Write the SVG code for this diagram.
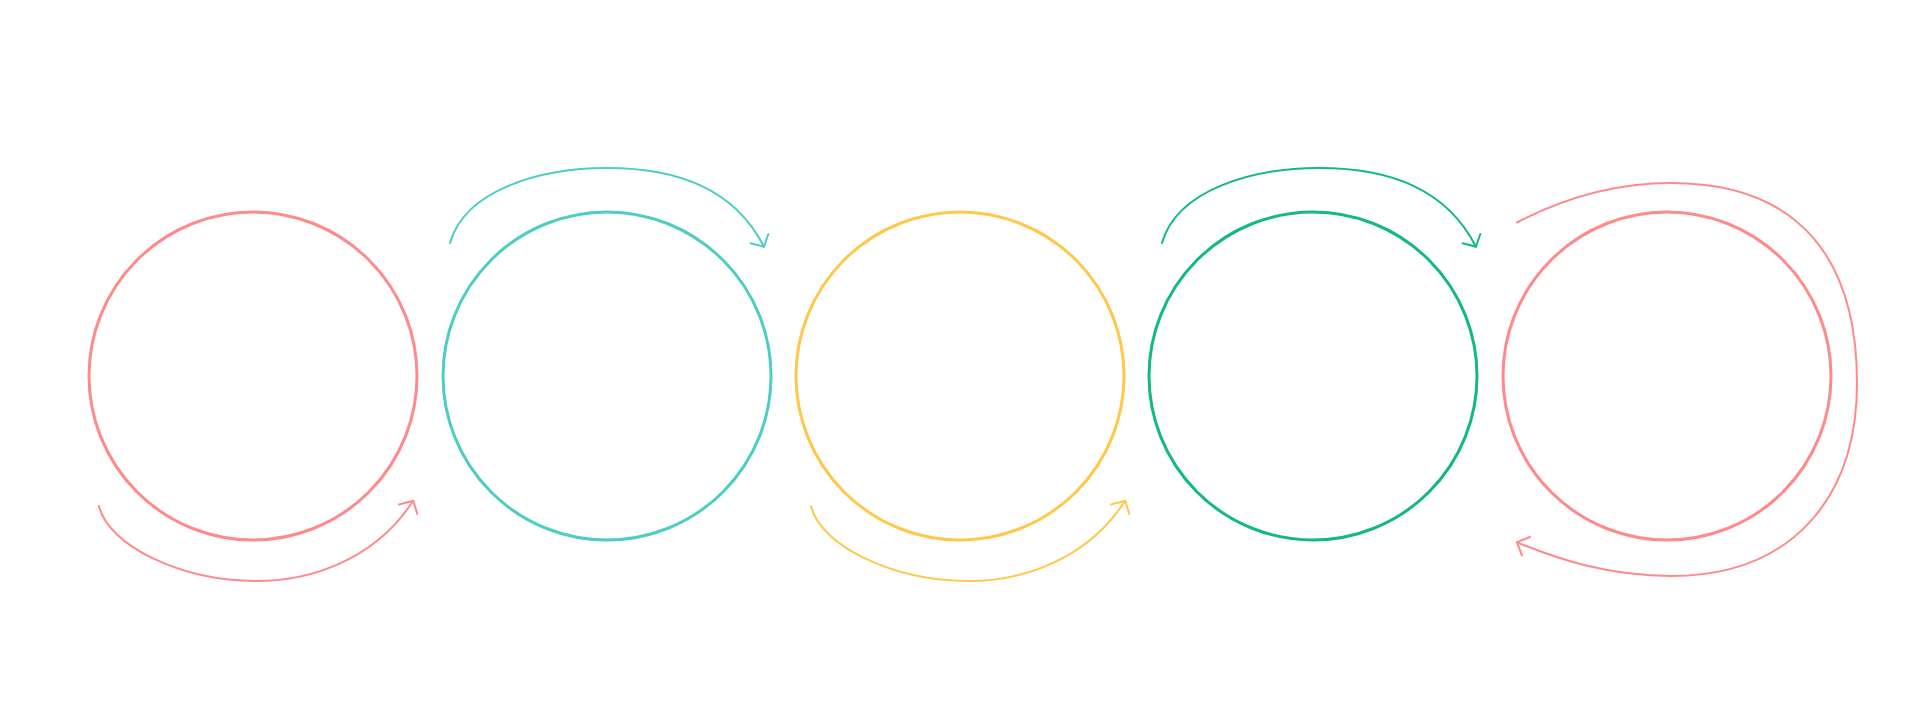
<svg xmlns="http://www.w3.org/2000/svg" width="1920" height="725" viewBox="0 0 1920 725">
<style>
.node{fill:none;stroke-width:3}
.conn{fill:none;stroke-width:2;stroke-linecap:round;stroke-linejoin:round}
.pink{stroke:#FF8A8A}.teal{stroke:#4ECDC4}.yellow{stroke:#FFC84A}.green{stroke:#12B886}
</style>
<rect width="1920" height="725" fill="#ffffff"/>
<g id="node-1"><circle class="node pink" cx="253" cy="376" r="164"/></g>
<g id="node-2"><circle class="node teal" cx="607" cy="376" r="164"/></g>
<g id="node-3"><circle class="node yellow" cx="960" cy="376" r="164"/></g>
<g id="node-4"><circle class="node green" cx="1313" cy="376" r="164"/></g>
<g id="node-5"><circle class="node pink" cx="1667" cy="376" r="164"/></g>
<g id="connectors">
<g id="c1" class="conn pink">
<path d="M 99 506 C 108 545, 180 581, 257 581 C 310 581, 375 560, 413 501"/>
<path d="M 399 504.5 L 413.3 500.7 L 417.3 514"/>
</g>
<g id="c2" class="conn teal">
<path d="M 450 243 C 465 190, 540 168, 607 168 C 680 168, 735 190, 764 246.7"/>
<path d="M 750.7 243.3 L 764 246.7 L 768.3 234"/>
</g>
<g id="c3" class="conn yellow" transform="translate(712,0)">
<path d="M 99 506 C 108 545, 180 581, 257 581 C 310 581, 375 560, 413 501"/>
<path d="M 399 504.5 L 413.3 500.7 L 417.3 514"/>
</g>
<g id="c4" class="conn green" transform="translate(712,0)">
<path d="M 450 243 C 465 190, 540 168, 607 168 C 680 168, 735 190, 764 246.7"/>
<path d="M 750.7 243.3 L 764 246.7 L 768.3 234"/>
</g>
<g id="c5" class="conn pink">
<path d="M 1517 222.5 C 1560 200, 1610 183, 1671 183 C 1800 183, 1857 260, 1857 383 C 1857 500, 1790 576, 1671 576 C 1610 576, 1560 560, 1517 542.3"/>
<path d="M 1530 537 L 1517 542.3 L 1522 555.6"/>
</g>
</g>
</svg>
